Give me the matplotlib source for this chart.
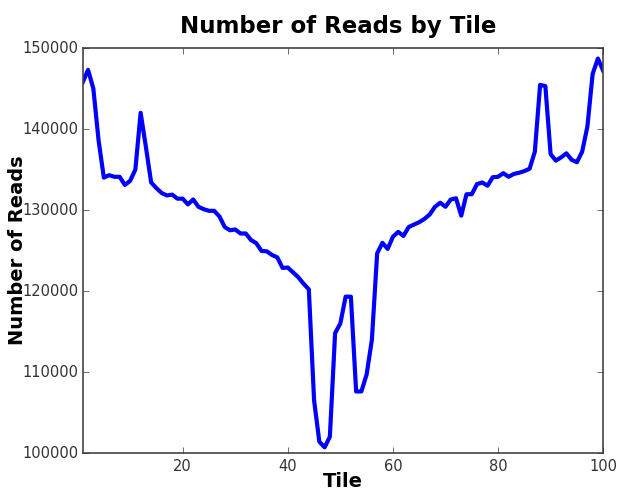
import matplotlib
matplotlib.use("Agg")
import matplotlib.pyplot as plt

tiles = list(range(1, 101))
reads = [
    145800, 147300, 145000, 138600, 134000, 134300, 134100, 134100, 133100, 133600,
    135000, 142000, 137800, 133400, 132700, 132100, 131800, 131900, 131400, 131400,
    130700, 131300, 130400, 130100, 129900, 129900, 129200, 127900, 127500, 127600,
    127100, 127100, 126300, 125900, 124950, 124900, 124450, 124150, 122850, 122900,
    122300, 121700, 120900, 120200, 106500, 101400, 100700, 102000, 114800, 116000,
    119300, 119300, 107600, 107600, 109700, 114000, 124650, 125950, 125200, 126700,
    127300, 126800, 127900, 128200, 128500, 128900, 129450, 130400, 130900, 130400,
    131300, 131450, 129300, 131950, 131950, 133200, 133400, 133000, 134050, 134100,
    134550, 134100, 134450, 134600, 134800, 135100, 137200, 145450, 145300, 136900,
    136100, 136500, 137000, 136200, 135900, 137200, 140300, 146800, 148700, 147200,
]

plt.style.use('classic')
fig = plt.figure(figsize=(6.18, 4.9), dpi=100, facecolor='white')
ax = fig.add_axes([0.134, 0.0755, 0.842, 0.8265])
ax.plot(tiles, reads, color='blue', linewidth=3)
ax.set_xlim(1, 100)
ax.set_ylim(100000, 150000)
ax.set_xticks([20, 40, 60, 80, 100])
ax.set_yticks(range(100000, 150001, 10000))
ax.ticklabel_format(useOffset=False, style='plain', axis='y')
ax.tick_params(labelsize=10.5, colors='#333333', pad=4)
ax.tick_params(axis='y', pad=3)
for sp in ax.spines.values():
    sp.set_color('#444444')
    sp.set_linewidth(1.2)
ax.set_title("Number of Reads by Tile", fontsize=16.5, fontweight='bold', y=1.02, x=0.49)
ax.set_xlabel("Tile", fontsize=14, fontweight='bold')
ax.set_ylabel("Number of Reads", fontsize=14, fontweight='bold')
ax.xaxis.set_label_coords(0.5, -0.048)
ax.yaxis.set_label_coords(-0.108, 0.5)
fig.savefig("out.png", dpi=100, facecolor='white')
